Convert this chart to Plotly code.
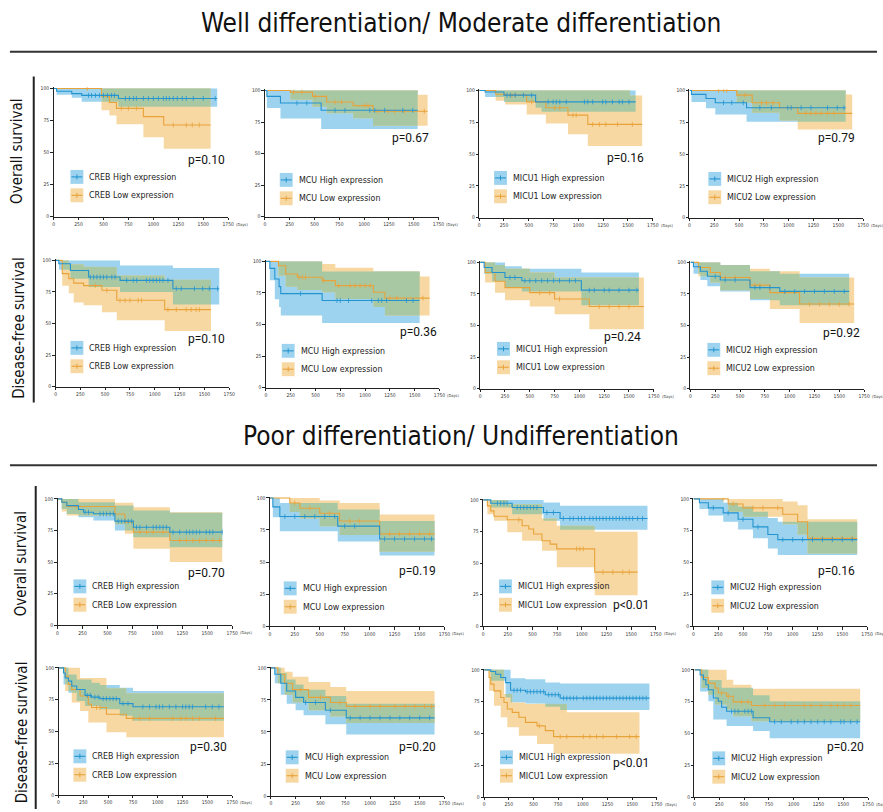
import plotly.graph_objects as go

# ------------------------------------------------------------------ data
genes = ["CREB", "MCU", "MICU1", "MICU2"]
section_titles = ["Well differentiation/ Moderate differentiation",
                  "Poor differentiation/ Undifferentiation"]
row_labels = ["Overall survival", "Disease-free survival"]
x_ticks = [0, 250, 500, 750, 1000, 1250, 1500, 1750]
y_ticks = [0, 25, 50, 75, 100]

p_well_os = ["p=0.10", "p=0.67", "p=0.16", "p=0.79"]
p_well_dfs = ["p=0.10", "p=0.36", "p=0.24", "p=0.92"]
p_poor_os = ["p=0.70", "p=0.19", "p<0.01", "p=0.16"]
p_poor_dfs = ["p=0.30", "p=0.20", "p<0.01", "p=0.20"]

# Kaplan-Meier rows: (day, survival %, lower 95% CI, upper 95% CI);
# the last row marks the end of follow-up.  Censor lists hold days.
well_os_creb_high = [(0, 100, 100, 100), (30, 97.8, 95, 100), (182, 96, 92.7, 100), (282, 94.6, 89.6, 100),
                     (650, 92.2, 85.7, 100), (1640, 92.2, 85.7, 100)]
well_os_creb_high_censor = [350, 380, 420, 460, 500, 540, 580, 610, 720, 760, 800, 830, 900, 950, 1000, 1050,
                            1100, 1130, 1160, 1200, 1240, 1290, 1330, 1400, 1500, 1620]
well_os_creb_low = [(0, 100, 100, 100), (480, 94, 83, 100), (560, 89, 79, 100), (630, 84.5, 72, 100),
                    (900, 78, 62, 100), (1104, 71.5, 53, 100), (1574, 71.5, 53, 100)]
well_os_creb_low_censor = [338, 680, 750, 830, 1200, 1330, 1390, 1460]

well_os_mcu_high = [(0, 100, 100, 100), (20, 95.3, 86, 100), (157, 90, 77.7, 100), (567, 84.3, 69.5, 100),
                    (1540, 84.3, 69.5, 100)]
well_os_mcu_high_censor = [323, 423, 707, 807, 1057, 1107, 1207, 1390, 1490]
well_os_mcu_low = [(0, 100, 100, 100), (257, 98.7, 92.6, 100), (480, 95.3, 87, 100), (623, 90.8, 82, 100),
                   (890, 88, 78, 100), (1090, 83.5, 72, 100), (1540, 83.5, 72, 96.6), (1640, 83.5, 72, 96.6)]
well_os_mcu_low_censor = [290, 373, 507, 707, 773, 1007, 1040, 1140, 1240, 1307, 1407, 1607]

well_os_micu1_high = [(0, 100, 100, 100), (60, 98.8, 94.8, 100), (250, 96.3, 91, 100), (569, 91, 86.4, 100),
                      (629, 91, 83.2, 100), (1577, 91, 83.2, 100)]
well_os_micu1_high_censor = [280, 313, 363, 446, 529, 695, 745, 778, 812, 878, 1061, 1095, 1144, 1244, 1277,
                             1344, 1411, 1444, 1510]
well_os_micu1_low = [(0, 100, 100, 100), (166, 97, 92, 100), (263, 96.3, 89, 100), (479, 91, 81, 100),
                     (672, 86.4, 74, 100), (895, 80.6, 65.5, 100), (1095, 73.3, 56.3, 100),
                     (1520, 73.3, 56.3, 96), (1643, 73.3, 56.3, 96)]
well_os_micu1_low_censor = [329, 363, 529, 762, 812, 945, 978, 1144, 1211, 1277, 1394, 1544]

well_os_micu2_high = [(0, 100, 100, 100), (20, 96.9, 91, 100), (166, 93.7, 86, 100), (260, 90.3, 81, 100),
                      (575, 86.4, 75.4, 100), (1574, 86.4, 75.4, 100)]
well_os_micu2_high_censor = [343, 426, 542, 709, 825, 991, 1025, 1125, 1224, 1391, 1490, 1557]
well_os_micu2_low = [(0, 100, 100, 100), (476, 96.3, 90.3, 100), (632, 90.3, 82.5, 100), (908, 86.4, 76.4, 100),
                     (1091, 82, 69.4, 100), (1574, 82, 69.4, 96.9), (1640, 82, 69.4, 96.9)]
well_os_micu2_low_censor = [293, 343, 376, 559, 725, 775, 842, 1174, 1224, 1274, 1324, 1391, 1457]

well_dfs_creb_high = [(0, 100, 100, 100), (33, 97.4, 92.6, 100), (150, 92, 85.5, 100), (333, 86.8, 79, 100),
                      (650, 84.2, 75, 96), (1183, 77.6, 65, 94), (1650, 77.6, 65, 94)]
well_dfs_creb_high_censor = [350, 383, 417, 450, 483, 517, 567, 600, 717, 783, 817, 917, 950, 983, 1017, 1050,
                             1083, 1133, 1217, 1267, 1400, 1483, 1550, 1633]
well_dfs_creb_low = [(0, 100, 100, 100), (67, 89.5, 80, 100), (133, 85.5, 74, 97), (183, 82, 66.6, 97),
                     (283, 80, 64.5, 95), (467, 76.3, 59, 94.7), (617, 68.4, 52.6, 88), (1100, 61, 44, 84.7),
                     (1567, 61, 44, 84.7)]
well_dfs_creb_low_censor = [400, 517, 650, 700, 750, 833, 867, 1133, 1217, 1317, 1367, 1417, 1450]

well_dfs_mcu_high = [(0, 100, 100, 100), (40, 94.5, 85, 100), (90, 86, 70, 100), (133, 80, 63.8, 100),
                     (150, 74.5, 57.2, 100), (567, 69, 51.2, 92), (1550, 69, 51.2, 92)]
well_dfs_mcu_high_censor = [350, 717, 750, 833, 1067, 1133, 1167, 1217, 1417, 1483]
well_dfs_mcu_low = [(0, 100, 100, 100), (127, 96.6, 88.7, 100), (200, 90, 80, 100), (317, 87.4, 77.4, 100),
                    (567, 84.8, 75.6, 98), (700, 80.8, 70.3, 95), (1083, 75.6, 63.8, 92), (1200, 70.9, 57.2, 92),
                    (1550, 70.9, 57.2, 88), (1650, 70.9, 57.2, 88)]
well_dfs_mcu_low_censor = [333, 367, 400, 583, 733, 850, 900, 950, 1000, 1050, 1250, 1317, 1583]

well_dfs_micu1_high = [(0, 100, 100, 100), (40, 96, 91, 100), (120, 92, 85, 100), (250, 88, 80, 97),
                       (420, 85.5, 77, 95), (1020, 78, 66, 92), (1600, 78, 66, 92)]
well_dfs_micu1_high_censor = [300, 350, 450, 500, 560, 620, 680, 740, 800, 900, 960, 1100, 1150, 1250, 1300,
                              1400, 1500, 1580]
well_dfs_micu1_low = [(0, 100, 100, 100), (50, 92, 84, 100), (150, 85, 76, 98), (250, 80, 70, 95),
                      (500, 76, 65, 92), (750, 71, 59, 88), (1100, 65, 47, 88), (1650, 65, 47, 88)]
well_dfs_micu1_low_censor = [600, 700, 800, 1200, 1300, 1400, 1500]

well_dfs_micu2_high = [(0, 100, 100, 100), (30, 96.5, 91, 100), (100, 93, 86, 100), (170, 89, 81, 100),
                       (300, 86, 77, 98), (600, 80, 70, 93), (900, 77, 66, 91), (1600, 77, 66, 91)]
well_dfs_micu2_high_censor = [250, 350, 450, 650, 700, 800, 950, 1050, 1150, 1250, 1350, 1450, 1550]
well_dfs_micu2_low = [(0, 100, 100, 100), (80, 96, 89, 100), (200, 92, 84, 100), (300, 88, 78, 98),
                      (600, 82, 71, 95), (800, 76, 63, 93), (1100, 67, 52, 88), (1650, 67, 52, 88)]
well_dfs_micu2_low_censor = [350, 450, 650, 700, 1200, 1300, 1400, 1500, 1600]

poor_os_creb_high = [(0, 100, 100, 100), (43, 97.4, 92, 100), (93, 94.7, 88, 100), (210, 91.6, 85.5, 97.4),
                     (260, 89.5, 85.5, 97.4), (360, 88.2, 83, 97.4), (575, 82.4, 75, 94.7),
                     (760, 77.6, 69.7, 90.8), (1125, 73.7, 61.8, 89), (1650, 73.7, 61.8, 89)]
poor_os_creb_high_censor = [276, 310, 426, 459, 492, 526, 559, 609, 642, 675, 709, 742, 792, 825, 892, 958, 991,
                            1025, 1058, 1091, 1158, 1224, 1291, 1324, 1357, 1391, 1424, 1490, 1524, 1557, 1650]
poor_os_creb_low = [(0, 100, 100, 100), (43, 97.4, 90, 100), (93, 94, 86.8, 100), (575, 88, 80, 97),
                    (675, 81.6, 72.4, 97), (760, 73.7, 60.5, 93.5), (1125, 67.1, 50, 89.5), (1650, 67.1, 50, 89.5)]
poor_os_creb_low_censor = [193, 825, 892, 958, 1058, 1224, 1291, 1357, 1424, 1490, 1557, 1624]

poor_os_mcu_high = [(0, 100, 100, 100), (30, 93, 85, 100), (100, 85.5, 74, 96), (680, 78, 66, 91),
                    (1100, 68, 55, 82), (1650, 68, 55, 82)]
poor_os_mcu_high_censor = [150, 250, 350, 450, 550, 650, 750, 850, 1150, 1250, 1350, 1450, 1550, 1620]
poor_os_mcu_low = [(0, 100, 100, 100), (200, 96, 89, 100), (300, 92, 84, 100), (500, 88, 78, 98),
                   (700, 82, 71, 96), (1100, 72, 58, 87), (1650, 72, 58, 87)]
poor_os_mcu_low_censor = [250, 400, 600, 800, 900, 1200, 1300, 1400, 1500, 1600]

poor_os_micu1_high = [(0, 100, 100, 100), (77, 97.4, 94, 100), (294, 94, 88.7, 100), (612, 90, 83.5, 97.9),
                      (780, 85.3, 76.4, 95.3), (1666, 85.3, 76.4, 95.3)]
poor_os_micu1_high_censor = [144, 177, 211, 244, 345, 378, 412, 445, 478, 512, 545, 646, 713, 813, 880, 914,
                             964, 997, 1030, 1081, 1114, 1148, 1181, 1215, 1248, 1281, 1315, 1348, 1382, 1415,
                             1449, 1482, 1516, 1566, 1616]
poor_os_micu1_low = [(0, 100, 100, 100), (43, 95.3, 88.7, 100), (77, 91.3, 88.7, 100), (110, 87, 83.5, 100),
                     (244, 84.3, 74.3, 96.6), (395, 79.5, 67.7, 96.6), (462, 76.9, 67.7, 96.6),
                     (512, 73, 67.7, 96.6), (596, 67.7, 59.8, 85.3), (679, 65, 59.8, 85.3),
                     (746, 61.2, 46.7, 79.5), (1131, 42.8, 24.4, 74.8), (1566, 42.8, 24.4, 74.8)]
poor_os_micu1_low_censor = [361, 947, 980, 1014, 1215, 1315, 1415, 1482]

poor_os_micu2_high = [(0, 100, 100, 100), (60, 97, 92, 100), (150, 93, 87, 100), (300, 89, 82, 97),
                      (450, 84, 76, 94), (600, 78, 69, 90), (750, 72, 61, 85), (850, 68, 56, 82),
                      (1650, 68, 56, 82)]
poor_os_micu2_high_censor = [200, 350, 500, 650, 900, 1000, 1100, 1200, 1300, 1400, 1500, 1600]
poor_os_micu2_low = [(0, 100, 100, 100), (350, 96, 90, 100), (500, 93, 86, 100), (900, 88, 80, 98),
                     (1050, 82, 72, 95), (1150, 69, 57, 84), (1650, 69, 57, 84)]
poor_os_micu2_low_censor = [300, 400, 600, 700, 850, 1200, 1300, 1400, 1500, 1600]

poor_dfs_creb_high = [(0, 100, 100, 100), (50, 96, 87, 100), (67, 92, 87, 100), (100, 89.6, 80.5, 94.8),
                      (133, 85.7, 80.5, 94.8), (183, 83, 74, 90.9), (267, 78.4, 70, 90.9), (333, 77, 70, 88.3),
                      (417, 75.8, 67.5, 86.5), (617, 71.9, 62.3, 84.4), (750, 69.4, 58.4, 81.8),
                      (1667, 69.4, 58.4, 81.8)]
poor_dfs_creb_high_censor = [290, 320, 367, 400, 450, 483, 517, 550, 583, 650, 700, 850, 917, 983, 1017, 1050,
                             1117, 1183, 1250, 1283, 1317, 1350, 1483, 1550, 1617]
poor_dfs_creb_low = [(0, 100, 100, 100), (67, 93.5, 81.8, 100), (100, 87, 81.8, 100), (133, 83, 72.7, 100),
                     (217, 77.9, 66, 92), (300, 71.4, 57, 92), (333, 68.8, 57, 92), (483, 63.6, 49.4, 84),
                     (683, 60.3, 45.5, 80), (1667, 60.3, 45.5, 80)]
poor_dfs_creb_low_censor = [383, 417, 750, 817, 917, 1150, 1233, 1283, 1350, 1417, 1583]

poor_dfs_mcu_high = [(0, 100, 100, 100), (40, 95, 88, 100), (100, 88, 79, 96), (160, 82, 72, 91),
                     (250, 77, 67, 87), (330, 73, 63, 83), (550, 67, 56, 78), (760, 61, 48, 72),
                     (1650, 61, 48, 72)]
poor_dfs_mcu_high_censor = [350, 450, 600, 800, 900, 1000, 1100, 1200, 1300, 1400, 1500, 1600]
poor_dfs_mcu_low = [(0, 100, 100, 100), (70, 95, 88, 100), (140, 88, 79, 97), (220, 83, 73, 93),
                    (380, 77, 67, 89), (600, 73, 62, 85), (760, 70, 57, 82), (1650, 70, 57, 82)]
poor_dfs_mcu_low_censor = [300, 500, 700, 850, 1000, 1100, 1250, 1350, 1450, 1550, 1620]

poor_dfs_micu1_high = [(0, 100, 100, 100), (67, 98.7, 91.4, 100), (117, 96.6, 91.4, 100), (168, 94, 91.4, 100),
                       (218, 90, 78.3, 100), (268, 84, 74.4, 93.5), (419, 82.8, 73.6, 92.7),
                       (620, 80.4, 71, 90), (771, 77.8, 68.4, 89.3), (1676, 77.8, 68.4, 89.3)]
poor_dfs_micu1_high_censor = [302, 335, 369, 436, 469, 503, 536, 570, 603, 654, 687, 721, 754, 805, 838, 872,
                              906, 939, 1006, 1040, 1073, 1107, 1140, 1174, 1207, 1241, 1274, 1308, 1341, 1375,
                              1408, 1442, 1475, 1509, 1542, 1576, 1609, 1643]
poor_dfs_micu1_low = [(0, 100, 100, 100), (50, 94, 83.5, 100), (67, 88.8, 83.5, 100), (100, 83.5, 71.8, 100),
                      (168, 78.3, 62.7, 100), (201, 74.4, 62.7, 81), (235, 69.2, 54.8, 81),
                      (285, 66.6, 54.8, 74.4), (352, 62.7, 48.3, 74.4), (419, 58.7, 48.3, 73.1),
                      (536, 56, 41.8, 73.1), (620, 52.2, 41.8, 73.1), (704, 47.5, 34, 73.1),
                      (838, 47.5, 34, 66.6), (1575, 47.5, 34, 66.6)]
poor_dfs_micu1_low_censor = [560, 771, 838, 1006, 1073, 1140, 1207, 1341, 1475, 1542]

poor_dfs_micu2_high = [(0, 100, 100, 100), (57, 96, 83, 100), (90, 92.2, 83, 100), (115, 88.3, 83, 100),
                       (140, 84.4, 75.3, 92), (190, 77.9, 61, 92), (240, 75.3, 61, 92), (274, 70.6, 61, 86),
                       (324, 67.5, 55.8, 86), (591, 62.3, 52, 80), (758, 59.2, 46.2, 75.3),
                       (1670, 59.2, 46.2, 75.3)]
poor_dfs_micu2_high_censor = [374, 407, 441, 508, 541, 574, 808, 875, 975, 1042, 1108, 1175, 1242, 1308, 1375,
                              1475, 1508, 1575, 1640]
poor_dfs_micu2_low = [(0, 100, 100, 100), (73, 94, 85.7, 100), (140, 89.6, 80.5, 100), (207, 85.7, 72.7, 100),
                      (240, 81.8, 72.7, 100), (324, 79.2, 68.8, 92.2), (391, 74.8, 63.6, 88.3),
                      (574, 72, 59.7, 85.2), (1670, 72, 59.7, 85.2)]
poor_dfs_micu2_low_censor = [274, 341, 474, 541, 708, 808, 908, 1108, 1175, 1275, 1375, 1442, 1508, 1575]

panels = [
    (well_os_creb_high, well_os_creb_high_censor, well_os_creb_low, well_os_creb_low_censor),
    (well_os_mcu_high, well_os_mcu_high_censor, well_os_mcu_low, well_os_mcu_low_censor),
    (well_os_micu1_high, well_os_micu1_high_censor, well_os_micu1_low, well_os_micu1_low_censor),
    (well_os_micu2_high, well_os_micu2_high_censor, well_os_micu2_low, well_os_micu2_low_censor),
    (well_dfs_creb_high, well_dfs_creb_high_censor, well_dfs_creb_low, well_dfs_creb_low_censor),
    (well_dfs_mcu_high, well_dfs_mcu_high_censor, well_dfs_mcu_low, well_dfs_mcu_low_censor),
    (well_dfs_micu1_high, well_dfs_micu1_high_censor, well_dfs_micu1_low, well_dfs_micu1_low_censor),
    (well_dfs_micu2_high, well_dfs_micu2_high_censor, well_dfs_micu2_low, well_dfs_micu2_low_censor),
    (poor_os_creb_high, poor_os_creb_high_censor, poor_os_creb_low, poor_os_creb_low_censor),
    (poor_os_mcu_high, poor_os_mcu_high_censor, poor_os_mcu_low, poor_os_mcu_low_censor),
    (poor_os_micu1_high, poor_os_micu1_high_censor, poor_os_micu1_low, poor_os_micu1_low_censor),
    (poor_os_micu2_high, poor_os_micu2_high_censor, poor_os_micu2_low, poor_os_micu2_low_censor),
    (poor_dfs_creb_high, poor_dfs_creb_high_censor, poor_dfs_creb_low, poor_dfs_creb_low_censor),
    (poor_dfs_mcu_high, poor_dfs_mcu_high_censor, poor_dfs_mcu_low, poor_dfs_mcu_low_censor),
    (poor_dfs_micu1_high, poor_dfs_micu1_high_censor, poor_dfs_micu1_low, poor_dfs_micu1_low_censor),
    (poor_dfs_micu2_high, poor_dfs_micu2_high_censor, poor_dfs_micu2_low, poor_dfs_micu2_low_censor),
]
p_values = p_well_os + p_well_dfs + p_poor_os + p_poor_dfs

# ------------------------------------------------------------------ layout (pixels)
W, H = 883, 812
# plot boxes: left (day 0), right (day 1750), top (100 %), bottom (0 %)
boxes = [
    (53, 229, 87, 216), (266, 441, 89, 216), (482, 657, 89, 217), (694, 869, 89, 217),
    (55, 230, 260, 387), (267, 442, 261, 388), (483, 658, 262, 389), (695, 870, 262, 389),
    (57, 233, 500, 627), (271, 447, 499, 628), (486, 660, 501, 628), (698, 873, 500, 628),
    (58, 233, 670, 798), (272, 447, 670, 799), (487, 661, 672, 800), (699, 874, 672, 800),
]
# legend: left of swatch, centre of first entry
legend_pos = [
    (70, 176), (281, 179), (497, 177), (713, 178),
    (70, 348), (283, 351), (500, 349), (712, 350),
    (73, 588), (285, 590), (502, 588), (716, 589),
    (73, 759), (287, 760), (503, 760), (717, 761),
]
# p-value text: right edge, centre
p_pos = [
    (228, 159), (433, 137), (650, 157), (863, 137),
    (228, 339), (442, 332), (647, 337), (868, 333),
    (228, 575), (440, 573), (655, 607), (863, 573),
    (230, 750), (440, 750), (655, 766), (872, 750),
]
days_suffix = [True, True, True, True, False, True, True, True,
               True, True, True, True, True, True, True, True]

BLUE_LINE = "#2394d0"
BLUE_FILL = "#9dd3ee"
ORANGE_LINE = "#e8a23a"
ORANGE_FILL = "#f8d8a2"
OVERLAP_FILL = "#a8c8a4"
NARROW = "DejaVu Sans Condensed, Liberation Sans Narrow, sans-serif"
PFONT = "Roboto, Liberation Sans, sans-serif"


def fx(x):
    return x / W


def fy(y):
    return 1 - y / H


def step_path(rows, col):
    xs, ys = [], []
    for i in range(len(rows) - 1):
        xs += [rows[i][0], rows[i + 1][0]]
        ys += [rows[i][col], rows[i][col]]
    return xs, ys


def value_at(rows, t, col):
    v = rows[0][col]
    for r in rows:
        if r[0] <= t:
            v = r[col]
        else:
            break
    return v


def band(rows):
    xu, yu = step_path(rows, 3)
    xl, yl = step_path(rows, 2)
    return xu + xl[::-1], yu + yl[::-1]


def overlap_rows(a, b):
    end = min(a[-1][0], b[-1][0])
    grid = sorted({r[0] for r in a + b if r[0] < end} | {end})
    out = []
    for g in grid:
        lo = max(value_at(a, g, 2), value_at(b, g, 2))
        hi = min(value_at(a, g, 3), value_at(b, g, 3))
        out.append((g, 0, lo, max(lo, hi)))
    return out


fig = go.Figure()
shapes, annotations = [], []
YMAX = 101

for k, (hi_rows, hi_cens, lo_rows, lo_cens) in enumerate(panels):
    n = k + 1
    xa = "x" if n == 1 else f"x{n}"
    ya = "y" if n == 1 else f"y{n}"
    left, right, top, bottom = boxes[k]
    top_ext = bottom - (bottom - top) * YMAX / 100

    common = dict(xaxis=xa, yaxis=ya, hoverinfo="skip", showlegend=False)
    for rows, col in ((hi_rows, BLUE_FILL), (lo_rows, ORANGE_FILL)):
        bx, by = band(rows)
        fig.add_trace(go.Scatter(x=bx, y=by, fill="toself", fillcolor=col, mode="lines",
                                 line=dict(width=0), **common))
    ox, oy = band(overlap_rows(hi_rows, lo_rows))
    fig.add_trace(go.Scatter(x=ox, y=oy, fill="toself", fillcolor=OVERLAP_FILL, mode="lines",
                             line=dict(width=0), **common))
    for rows, cens, col in ((lo_rows, lo_cens, ORANGE_LINE), (hi_rows, hi_cens, BLUE_LINE)):
        sx, sy = step_path(rows, 1)
        fig.add_trace(go.Scatter(x=sx, y=sy, mode="lines", line=dict(color=col, width=1.1), **common))
        fig.add_trace(go.Scatter(x=cens, y=[value_at(rows, t, 1) for t in cens], mode="markers",
                                 marker=dict(symbol="line-ns-open", size=3.5, color=col,
                                             line=dict(color=col, width=0.8)),
                                 **common))

    axis_style = dict(showline=True, linecolor="#222", linewidth=0.8, ticks="outside", ticklen=2.5,
                      tickwidth=0.7, tickcolor="#222", showgrid=False, zeroline=False,
                      tickfont=dict(size=5, color="#333", family=NARROW), fixedrange=True)
    fig.update_layout({
        ("xaxis" if n == 1 else f"xaxis{n}"): dict(
            domain=[fx(left), fx(right)], range=[0, 1750], anchor=ya,
            tickvals=x_ticks, ticktext=[str(v) for v in x_ticks], **axis_style),
        ("yaxis" if n == 1 else f"yaxis{n}"): dict(
            domain=[fy(bottom), fy(top_ext)], range=[0, YMAX], anchor=xa,
            tickvals=y_ticks, ticktext=[str(v) for v in y_ticks], **axis_style),
    })
    if days_suffix[k]:
        annotations.append(dict(x=fx(right + 6), y=fy(bottom + 7.5), xref="paper", yref="paper",
                                text="(Days)", showarrow=False, xanchor="left", yanchor="middle",
                                font=dict(size=4, color="#333", family=NARROW)))

    # legend block
    lx, ly = legend_pos[k]
    gene = genes[k % 4]
    for j, (fill, line, label) in enumerate(((BLUE_FILL, BLUE_LINE, "High expression"),
                                             (ORANGE_FILL, ORANGE_LINE, "Low expression"))):
        cy = ly + 18.5 * j
        shapes.append(dict(type="rect", xref="paper", yref="paper", x0=fx(lx), x1=fx(lx + 13),
                           y0=fy(cy + 7), y1=fy(cy - 7), fillcolor=fill, line=dict(width=0), layer="above"))
        shapes.append(dict(type="line", xref="paper", yref="paper", x0=fx(lx + 1), x1=fx(lx + 12),
                           y0=fy(cy), y1=fy(cy), line=dict(color=line, width=1.1), layer="above"))
        shapes.append(dict(type="line", xref="paper", yref="paper", x0=fx(lx + 6.5), x1=fx(lx + 6.5),
                           y0=fy(cy - 2.5), y1=fy(cy + 2.5), line=dict(color=line, width=1), layer="above"))
        annotations.append(dict(x=fx(lx + 17), y=fy(cy), xref="paper", yref="paper",
                                text=f"{gene} {label}", showarrow=False, xanchor="left", yanchor="middle",
                                font=dict(size=8.8, color="#222", family=NARROW)))

    px_, py_ = p_pos[k]
    annotations.append(dict(x=fx(px_), y=fy(py_), xref="paper", yref="paper", text=p_values[k],
                            showarrow=False, xanchor="right", yanchor="middle",
                            font=dict(size=12, color="#111", family=PFONT)))

# section headings, rules and row labels
for title, ty in zip(section_titles, (21, 437)):
    annotations.append(dict(x=fx(464), y=fy(ty), xref="paper", yref="paper", text=title, showarrow=False,
                            xanchor="center", yanchor="middle", font=dict(size=26, color="#111", family=NARROW)))
for y0 in (50, 466):
    shapes.append(dict(type="line", xref="paper", yref="paper", x0=fx(9), x1=1, y0=fy(y0), y1=fy(y0),
                       line=dict(color="#333", width=2)))
for x0, ya0, ya1 in ((33, 75, 403), (35, 487, 812)):
    shapes.append(dict(type="line", xref="paper", yref="paper", x0=fx(x0), x1=fx(x0), y0=fy(ya0), y1=fy(ya1),
                       line=dict(color="#222", width=2)))
for (lx, ly), label in zip(((16, 150), (18, 328), (20, 565), (22, 735)), row_labels * 2):
    annotations.append(dict(x=fx(lx), y=fy(ly), xref="paper", yref="paper", text=label, showarrow=False,
                            textangle=-90, xanchor="center", yanchor="middle",
                            font=dict(size=15, color="#111", family=NARROW)))

fig.update_layout(width=W, height=H, margin=dict(l=0, r=0, t=0, b=0), paper_bgcolor="white",
                  plot_bgcolor="white", showlegend=False, shapes=shapes, annotations=annotations)
fig.write_html("out.html")
